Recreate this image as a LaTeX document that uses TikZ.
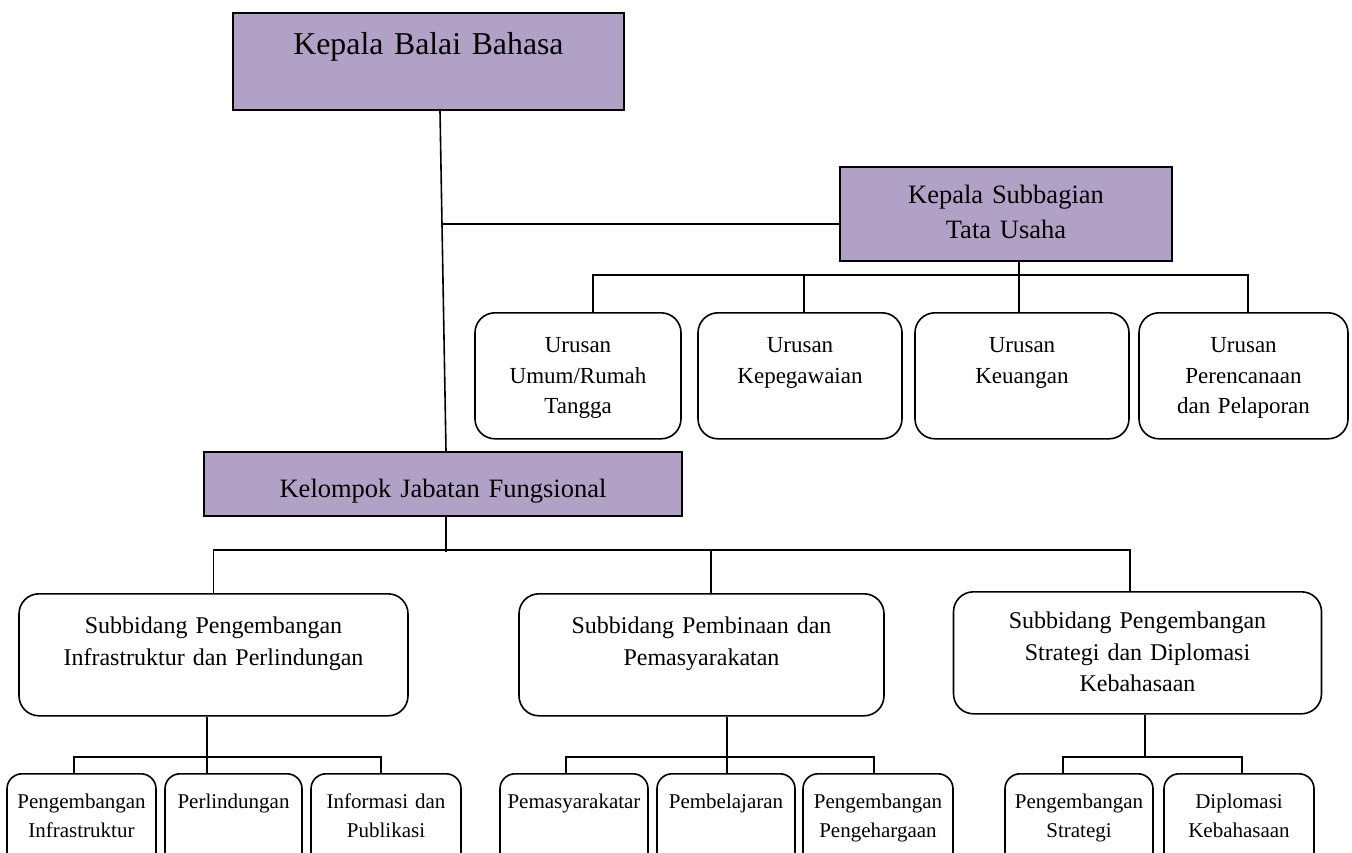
\documentclass[tikz,border=0pt]{standalone}
\usepackage{fontspec}
\setmainfont{Liberation Serif}
\usetikzlibrary{calc}
\definecolor{boxpurple}{RGB}{178,161,199}
\newcommand{\myfA}{\fontsize{31.8pt}{38pt}\selectfont}
\newcommand{\myfB}{\fontsize{26.5pt}{35pt}\selectfont}
\newcommand{\myfC}{\fontsize{23pt}{30.5pt}\selectfont}
\newcommand{\myfD}{\fontsize{24pt}{31.5pt}\selectfont}
\newcommand{\myfE}{\fontsize{21pt}{29pt}\selectfont}
\begin{document}
\begin{tikzpicture}[x=1pt,y=-1pt,
  conn/.style={line width=1.6pt},
  basebox/.style={draw=black, inner sep=0pt, align=center, anchor=north},
  headbox/.style={basebox, line width=2pt, fill=boxpurple},
  urbox/.style={basebox, line width=1.6pt, rounded corners=20pt, fill=white, font=\myfC, text height=40pt, text depth=86pt},
  subbox/.style={basebox, line width=1.6pt, rounded corners=20pt, fill=white, font=\myfD, text depth=82pt},
  leafbox/.style={basebox, line width=1.6pt, rounded corners=15pt, fill=white, font=\myfE, text height=35pt, text depth=70pt}
]
\useasboundingbox (0,0) rectangle (1352,852);
\clip (0,0) rectangle (1352,852);

% head boxes
\node[headbox, font=\myfA, text width=391pt, text height=41pt, text depth=56pt] (K) at (428.5,12) {Kepala Balai Bahasa};
\node[headbox, font=\myfB, text width=332pt, text height=36pt, text depth=58pt] (S) at (1006,166) {Kepala Subbagian\\Tata Usaha};
\node[headbox, font=\myfB, text width=478pt, text height=45pt, text depth=19pt] (J) at (443,451) {Kelompok Jabatan Fungsional};

% urusan
\node[urbox, text width=206pt] (U1) at (578,312) {Urusan\\Umum/Rumah\\Tangga};
\node[urbox, text width=204pt] (U2) at (800,312) {Urusan\\Kepegawaian};
\node[urbox, text width=214pt] (U3) at (1022,312) {Urusan\\Keuangan};
\node[urbox, text width=209pt] (U4) at (1243.5,312) {Urusan\\Perencanaan\\dan Pelaporan};

% subbidang
\node[subbox, text width=389pt, text height=40pt] (B1) at (213.5,593) {Subbidang Pengembangan\\Infrastruktur dan Perlindungan};
\node[subbox, text width=365pt, text height=40pt] (B2) at (701.5,593) {Subbidang Pembinaan dan\\Pemasyarakatan};
\node[subbox, text width=368pt, text height=37pt, text depth=85pt] (B3) at (1137.5,591) {Subbidang Pengembangan\\Strategi dan Diplomasi\\Kebahasaan};

% leaves
\node[leafbox, text width=149pt] (L1) at (81.5,773) {Pengembangan\\Infrastruktur};
\node[leafbox, text width=137pt] (L2) at (233.5,773) {Perlindungan};
\node[leafbox, text width=150pt] (L3) at (386,773) {Informasi dan\\Publikasi};
\node[leafbox, text width=148pt] (M1) at (574,773) {Pemasyarakatar};
\node[leafbox, text width=138pt] (M2) at (726,773) {Pembelajaran};
\node[leafbox, text width=150pt] (M3) at (878,773) {Pengembangan\\Pengehargaan};
\node[leafbox, text width=148pt] (R1) at (1079,773) {Pengembangan\\Strategi};
\node[leafbox, text width=150pt] (R2) at (1239,773) {Diplomasi\\Kebahasaan};

% main spine
\draw[conn] ([xshift=11.5pt]K.south) -- ([xshift=3pt]J.north);
\coordinate (mb) at ($([xshift=11.5pt]K.south)!0.333!([xshift=3pt]J.north)$);
\draw[conn] (mb) -- (mb -| S.west);

% Tata Usaha bus
\draw[conn] ([xshift=13pt]S.south) -- ([xshift=-3pt]U3.north);
\draw[conn] ([xshift=15pt]U1.north) -- ++(0,-37) -| ([xshift=4.5pt]U4.north);
\draw[conn] ([xshift=4pt]U2.north) -- ++(0,-38);

% Jabatan bus
\draw[conn] ([xshift=3pt]J.south) -- ++(0,35);
\draw[conn] (B1.north) -- ++(0,-43) -| ([xshift=-7.5pt]B3.north);
\draw[conn] ([xshift=9.5pt]B2.north) -- ++(0,-43);

% left leaves
\draw[conn] ([xshift=-6.5pt]B1.south) -- ([xshift=-26.5pt]L2.north);
\draw[conn] ([xshift=-7.5pt]L1.north) -- ++(0,-16) -| ([xshift=-5pt]L3.north);
% middle leaves
\draw[conn] ([xshift=25.5pt]B2.south) -- ([xshift=1pt]M2.north);
\draw[conn] ([xshift=-8pt]M1.north) -- ++(0,-16) -| ([xshift=-4pt]M3.north);
% right leaves
\draw[conn] ([xshift=7.5pt]B3.south) -- ++(0,42);
\draw[conn] ([xshift=-16pt]R1.north) -- ++(0,-16) -| ([xshift=3pt]R2.north);
\end{tikzpicture}
\end{document}
